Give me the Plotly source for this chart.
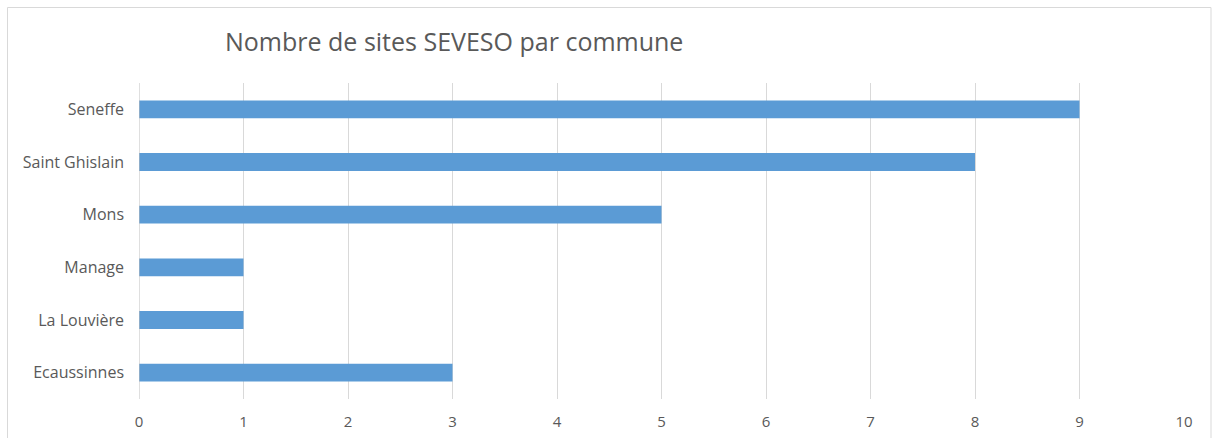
import plotly.graph_objects as go

# Communes listed bottom-to-top, as they appear on the vertical axis
communes = ["Ecaussinnes", "La Louvière", "Manage", "Mons", "Saint Ghislain", "Seneffe"]
nb_sites = [3, 1, 1, 5, 8, 9]
x_ticks = list(range(0, 11))

W, H = 1212, 438
ml, mr, mt, mb = 139, 28, 83, 39
pw, ph = W - ml - mr, H - mt - mb

FONT = "Open Sans, Liberation Sans, sans-serif"
GREY = "#595959"

fig = go.Figure(
    go.Bar(
        x=nb_sites,
        y=communes,
        orientation="h",
        marker=dict(color="#5b9bd5", line=dict(width=0)),
        hoverinfo="x+y",
    )
)

fig.update_layout(
    width=W,
    height=H,
    margin=dict(l=ml, r=mr, t=mt, b=mb, autoexpand=False),
    paper_bgcolor="white",
    plot_bgcolor="white",
    bargap=0.66,
    showlegend=False,
    font=dict(family=FONT, color=GREY, size=16),
    title=dict(
        text="Nombre de sites SEVESO par commune",
        x=225 / W,
        xanchor="left",
        xref="container",
        y=1 - 42 / H,
        yanchor="middle",
        yref="container",
        font=dict(family=FONT, size=25, color=GREY),
    ),
    xaxis=dict(
        range=[0, 10],
        tickvals=x_ticks,
        showgrid=True,
        gridcolor="#d9d9d9",
        gridwidth=1,
        zeroline=False,
        showline=False,
        ticks="",
        automargin=False,
        ticklabelstandoff=12,
        tickfont=dict(size=15, color=GREY),
    ),
    yaxis=dict(
        categoryorder="array",
        categoryarray=communes,
        showgrid=False,
        zeroline=False,
        showline=False,
        ticks="",
        automargin=False,
        ticklabelstandoff=14,
        tickfont=dict(size=16, color=GREY),
    ),
    shapes=[
        # chart border (bottom edge runs past the page)
        dict(
            type="rect",
            xref="paper",
            yref="paper",
            x0=(7.5 - ml) / pw,
            x1=(W - 1 - ml) / pw,
            y0=(ph + mt - (H + 30)) / ph,
            y1=(ph + mt - 7.5) / ph,
            line=dict(color="#d9d9d9", width=1),
            fillcolor="rgba(0,0,0,0)",
            layer="below",
        ),
        # vertical axis line at zero
        dict(
            type="line",
            xref="x",
            yref="paper",
            x0=0,
            x1=0,
            y0=0,
            y1=1,
            line=dict(color="#bfbfbf", width=1),
            layer="above",
        ),
    ],
)

fig.write_html("out.html")
